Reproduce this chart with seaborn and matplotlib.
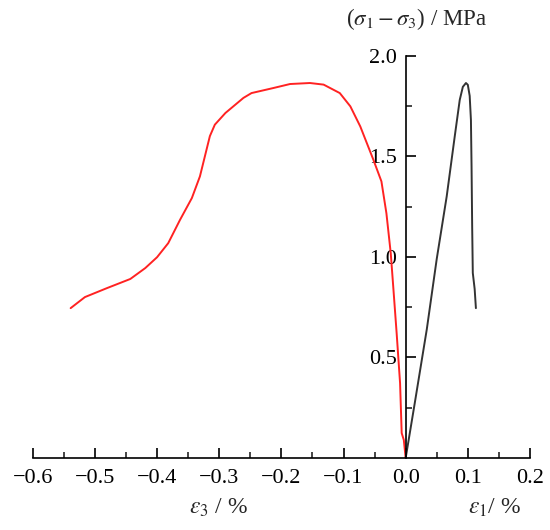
import numpy as np
import pandas as pd
import matplotlib
matplotlib.use('Agg')
import matplotlib.pyplot as plt
import seaborn as sns

# lateral strain (eps3) branch
eps3 = [-0.539, -0.516, -0.481, -0.443, -0.419, -0.400, -0.382, -0.363, -0.344,
        -0.331, -0.323, -0.315, -0.307, -0.290, -0.261, -0.248, -0.213, -0.186,
        -0.154, -0.132, -0.106, -0.089, -0.073, -0.052, -0.039, -0.031, -0.024,
        -0.020, -0.0145, -0.009, -0.0064, -0.003, 0.0]
stress3 = [0.745, 0.80, 0.844, 0.89, 0.944, 0.998, 1.068, 1.184, 1.292,
           1.40, 1.50, 1.60, 1.657, 1.715, 1.79, 1.814, 1.839, 1.859,
           1.864, 1.856, 1.814, 1.748, 1.648, 1.483, 1.375, 1.217, 1.018,
           0.852, 0.62, 0.372, 0.124, 0.09, 0.0]

# axial strain (eps1) branch
eps1 = [0.0, 0.015, 0.034, 0.050, 0.066, 0.079, 0.087, 0.092, 0.097, 0.100,
        0.103, 0.105, 0.106, 0.107, 0.108, 0.111, 0.113]
stress1 = [0.0, 0.28, 0.64, 0.99, 1.30, 1.60, 1.78, 1.845, 1.864, 1.855,
           1.80, 1.68, 1.45, 1.15, 0.92, 0.84, 0.745]

x_ticks = [-0.6, -0.5, -0.4, -0.3, -0.2, -0.1, 0.0, 0.1, 0.2]
y_ticks = [0.5, 1.0, 1.5, 2.0]

sns.set_style('ticks')
plt.rcParams['font.family'] = ['Liberation Serif', 'DejaVu Serif']
plt.rcParams['mathtext.fontset'] = 'stix'

df3 = pd.DataFrame({'strain': eps3, 'stress': stress3})
df1 = pd.DataFrame({'strain': eps1, 'stress': stress1})

fig = plt.figure(figsize=(5.5, 5.3), dpi=100)
ax = fig.add_axes([0.0595, 0.1358, 0.9041, 0.7592])

sns.lineplot(data=df3, x='strain', y='stress', sort=False, color='#ff2222',
             linewidth=1.4, ax=ax)
sns.lineplot(data=df1, x='strain', y='stress', sort=False, color='#333333',
             linewidth=1.4, ax=ax)

ax.set_xlim(-0.6, 0.2)
ax.set_ylim(0, 2.0)

ax.spines['top'].set_visible(False)
ax.spines['right'].set_visible(False)
ax.spines['left'].set_position(('data', 0))
for s in ['left', 'bottom']:
    ax.spines[s].set_color('black')
    ax.spines[s].set_linewidth(1.2)

ax.set_xticks(x_ticks)
ax.set_xticklabels(['\u2212%.1f' % abs(v) if v < 0 else '%.1f' % v for v in x_ticks])
ax.set_xticks(np.arange(-0.55, 0.2, 0.1), minor=True)
ax.set_yticks(y_ticks)
ax.set_yticklabels(['%.1f' % v for v in y_ticks])
ax.set_yticks([0.25, 0.75, 1.25, 1.75], minor=True)

ax.tick_params(axis='x', which='major', direction='in', length=7, width=1.2,
               labelsize=16, pad=8, colors='black', bottom=True)
ax.tick_params(axis='x', which='minor', direction='in', length=4, width=1.2,
               bottom=True)
ax.tick_params(axis='y', which='major', direction='in', length=7, width=1.2,
               labelsize=16, pad=6, colors='black', left=True)
ax.tick_params(axis='y', which='minor', direction='in', length=4, width=1.2,
               left=True)

ax.set_xlabel('')
ax.set_ylabel('')

fig.text(416 / 550, 1 - 19 / 530, r'($\sigma_1 - \sigma_3$) / MPa', ha='center',
         va='center', fontsize=16.5)
fig.text(218 / 550, 1 - 508 / 530, r'$\varepsilon_3$ / %', ha='center',
         va='center', fontsize=17)
fig.text(495 / 550, 1 - 508 / 530, r'$\varepsilon_1$/ %', ha='center',
         va='center', fontsize=17)

fig.savefig('out.png', dpi=100)
